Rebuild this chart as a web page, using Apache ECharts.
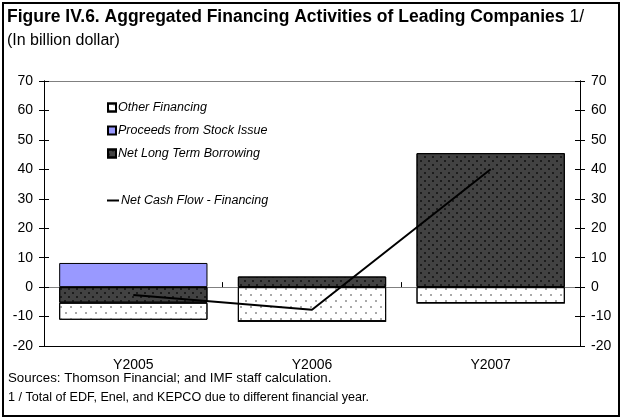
<!DOCTYPE html>
<html>
<head>
<meta charset="utf-8">
<script src="https://cdn.jsdelivr.net/npm/echarts@6/dist/echarts.min.js"></script>
<style>
  html, body { margin: 0; padding: 0; background: #fff; }
  #main { width: 621px; height: 418px; }
  #frame { position: absolute; left: 2px; top: 2px; width: 614px; height: 411px; border: 2px solid #000; pointer-events: none; }
</style>
</head>
<body>
<div id="main"></div>
<div id="frame"></div>
<script>
// data (billion dollar)
var years = ['Y2005', 'Y2006', 'Y2007']
var otherFinancing = [-5.8, -11.6, -5.4]
var stockIssue = [8.2, 0, 0]
var longTermBorrowing = [-5.3, 3.6, 45.5]
var netCashFlow = [-2.7, -7.7, 40]
var yMin = -20
var yMax = 70
var yStep = 10

var font = 'Liberation Sans, Arial, sans-serif'
var chart = echarts.init(document.getElementById('main'))

// value axis helper: side + tick direction
function valueAxis(pos, inside, labels) {
  return {
    type: 'value',
    position: pos,
    min: yMin,
    max: yMax,
    interval: yStep,
    axisLine: { show: true, lineStyle: { color: '#000', width: 1 } },
    axisTick: { show: true, inside: inside, length: 5, lineStyle: { color: '#000' } },
    axisLabel: { show: labels, margin: 11, color: '#000', fontSize: 14, fontFamily: font },
    splitLine: { show: false }
  }
}

chart.setOption({
  animation: false,
  title: {
    text: '{b|Figure IV.6. Aggregated Financing Activities of Leading Companies} {n|1/}\n{s|(In billion dollar)}',
    left: 7,
    top: 6,
    padding: 0,
    textStyle: {
      rich: {
        b: { fontWeight: 'bold', fontSize: 17.5, fontFamily: font, color: '#000', lineHeight: 23 },
        n: { fontWeight: 'normal', fontSize: 17.5, fontFamily: font, color: '#000', lineHeight: 23 },
        s: { fontWeight: 'normal', fontSize: 16, fontFamily: font, color: '#000', lineHeight: 24 }
      }
    }
  },
  graphic: [
    { type: 'text', left: 8, top: 372, style: { text: 'Sources: Thomson Financial; and IMF staff calculation.', font: '13.3px ' + font, fill: '#000' } },
    { type: 'text', left: 8, top: 391, style: { text: '1 / Total of EDF, Enel, and KEPCO due to different financial year.', font: '12.6px ' + font, fill: '#000' } }
  ],
  legend: [{
    orient: 'vertical',
    left: 102,
    top: 96,
    itemWidth: 8,
    itemHeight: 8,
    itemGap: 10,
    icon: 'rect',
    textStyle: { fontStyle: 'italic', fontSize: 12.5, fontFamily: font, color: '#000', padding: [0, 0, 0, -3] },
    data: ['Other Financing', 'Proceeds from Stock Issue', 'Net Long Term Borrowing']
  }, {
    orient: 'vertical',
    left: 102,
    top: 189,
    itemWidth: 12,
    itemHeight: 2,
    icon: 'rect',
    textStyle: { fontStyle: 'italic', fontSize: 12.5, fontFamily: font, color: '#000', padding: [0, 0, 0, -3] },
    data: ['Net Cash Flow - Financing']
  }],
  grid: { left: 44, right: 41, top: 81, bottom: 72, containLabel: false },
  xAxis: [{
    type: 'category',
    data: years,
    position: 'bottom',
    axisLine: { show: true, onZero: false, lineStyle: { color: '#000' } },
    axisTick: { show: false },
    axisLabel: { margin: 12, color: '#000', fontSize: 14, fontFamily: font }
  }, {
    type: 'category',
    data: years,
    position: 'top',
    axisLine: { show: true, onZero: false, lineStyle: { color: '#808080' } },
    axisTick: { show: false },
    axisLabel: { show: false }
  }, {
    type: 'category',
    data: years,
    position: 'bottom',
    axisLine: { show: true, onZero: true, lineStyle: { color: '#808080' } },
    axisTick: { show: true, inside: true, length: 5, lineStyle: { color: '#000' } },
    axisLabel: { show: false }
  }],
  yAxis: [
    valueAxis('left', false, true),
    valueAxis('right', false, true),
    valueAxis('left', true, false),
    valueAxis('right', true, false)
  ],
  series: [{
    name: 'Net Long Term Borrowing',
    type: 'bar',
    stack: 'fin',
    barWidth: '83%',
    data: longTermBorrowing,
    itemStyle: {
      color: '#424242',
      borderColor: '#000',
      borderWidth: 1,
      decal: { symbol: 'circle', symbolSize: 1, color: '#111', dashArrayX: [[2, 6], [0, 4, 2, 2]], dashArrayY: [2, 2] }
    }
  }, {
    name: 'Other Financing',
    type: 'bar',
    stack: 'fin',
    barWidth: '83%',
    data: otherFinancing,
    itemStyle: {
      color: '#fff',
      borderColor: '#000',
      borderWidth: 1,
      decal: { symbol: 'circle', symbolSize: 1, color: '#8c8c8c', dashArrayX: [[2, 8], [0, 5, 2, 3]], dashArrayY: [2, 4] }
    }
  }, {
    name: 'Proceeds from Stock Issue',
    type: 'bar',
    stack: 'fin',
    barWidth: '83%',
    data: stockIssue,
    itemStyle: { color: '#9999ff', borderColor: '#000', borderWidth: 1 }
  }, {
    name: 'Net Cash Flow - Financing',
    type: 'line',
    data: netCashFlow,
    showSymbol: false,
    symbol: 'none',
    z: 5,
    lineStyle: { color: '#000', width: 2 },
    itemStyle: { color: '#000' }
  }]
})
</script>
</body>
</html>
